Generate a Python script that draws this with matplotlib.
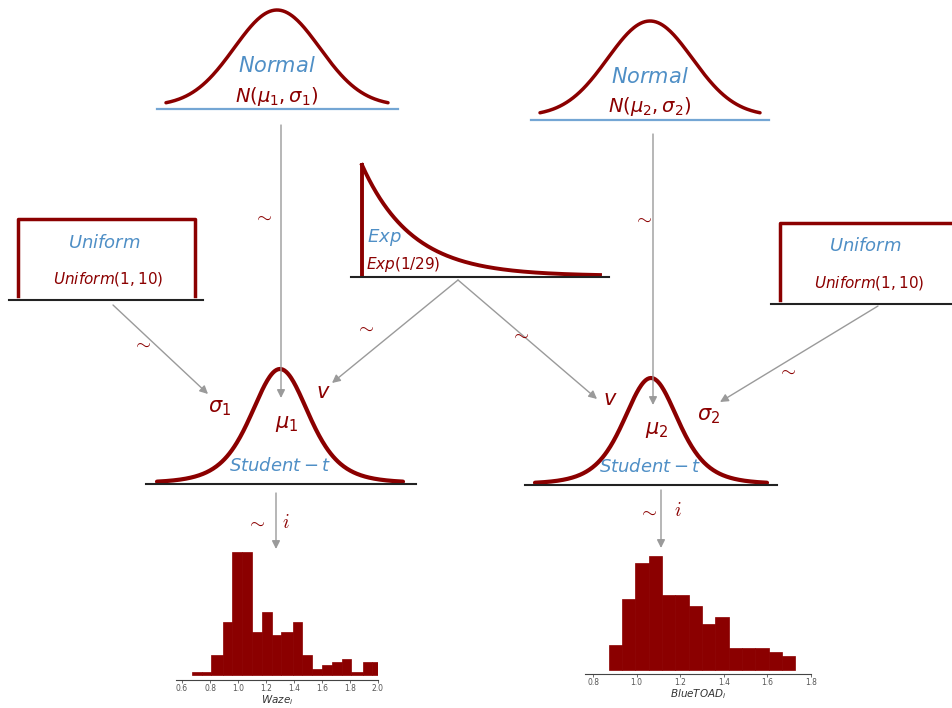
import numpy as np
import matplotlib
matplotlib.use("Agg")
import matplotlib.pyplot as plt

# histogram data (relative bar heights)
waze_edges = [0.67, 0.74, 0.81, 0.89, 0.96, 1.03, 1.10, 1.17, 1.24, 1.31, 1.39,
              1.46, 1.53, 1.60, 1.67, 1.74, 1.81, 1.89, 1.96, 2.03]
waze_heights = [0.08, 0.08, 0.60, 1.61, 3.73, 3.73, 1.30, 1.91, 1.20, 1.31,
                1.61, 0.60, 0.18, 0.29, 0.38, 0.49, 0.08, 0.39, 0.39]
waze_ticks = [0.6, 0.8, 1.0, 1.2, 1.4, 1.6, 1.8, 2.0]

blue_edges = [0.872, 0.933, 0.994, 1.055, 1.116, 1.178, 1.239, 1.300, 1.361,
              1.422, 1.483, 1.544, 1.605, 1.666, 1.727]
blue_heights = [0.75, 2.14, 3.20, 3.42, 2.25, 2.25, 1.92, 1.38, 1.60, 0.65,
                0.65, 0.65, 0.53, 0.42]
blue_ticks = [0.8, 1.0, 1.2, 1.4, 1.6, 1.8]

RED = '#8b0000'
BLUE = '#4f8fc6'
LBLUE = '#74a6d4'
GREY = '#9a9a9a'
W, H = 952, 708

fig = plt.figure(figsize=(W/100, H/100), dpi=100)
ax = fig.add_axes([0, 0, 1, 1])
ax.set_xlim(0, W)
ax.set_ylim(H, 0)
ax.axis('off')


def normal_node(cx, y0, hw, h, line_y, line_x0, line_x1):
    u = np.linspace(-2.6, 2.6, 200)
    ax.plot(cx + u/2.6*hw, y0 - h*np.exp(-u**2/2), color=RED, lw=2.5,
            solid_capstyle='round')
    ax.plot([line_x0, line_x1], [line_y, line_y], color=LBLUE, lw=1.6)


def t_node(cx, y0, hw, h, line_x0, line_x1, nu=5):
    u = np.linspace(-4.1, 4.1, 300)
    ax.plot(cx + u/4.1*hw, y0 - h*(1 + u**2/nu)**(-(nu+1)/2), color=RED,
            lw=3, solid_capstyle='round')
    ax.plot([line_x0, line_x1], [y0 + 1, y0 + 1], color='#222222', lw=1.5)


def arrow(x0, y0, x1, y1):
    ax.annotate('', xy=(x1, y1), xytext=(x0, y0),
                arrowprops=dict(arrowstyle='-|>', color=GREY, lw=1,
                                mutation_scale=12, shrinkA=0, shrinkB=0))


def sim(x, y):
    ax.text(x, y, r'$\sim$', color=RED, fontsize=14, ha='center',
            va='center', math_fontfamily='cm')


# top normals
normal_node(277, 106, 111, 96, 109, 157, 398)
ax.text(277, 66, r'$Normal$', color=BLUE, fontsize=15, ha='center', va='center')
ax.text(277, 97, r'$N(\mu_1,\sigma_1)$', color=RED, fontsize=14, ha='center', va='center')
normal_node(650, 116, 110, 95, 120, 531, 769)
ax.text(650, 77, r'$Normal$', color=BLUE, fontsize=15, ha='center', va='center')
ax.text(650, 107, r'$N(\mu_2,\sigma_2)$', color=RED, fontsize=14, ha='center', va='center')

# uniforms
ax.plot([18, 18, 195, 195], [296, 219, 219, 296], color=RED, lw=2.5)
ax.plot([9, 203], [300, 300], color='#222222', lw=1.5)
ax.text(104, 243, r'$Uniform$', color=BLUE, fontsize=13, ha='center', va='center')
ax.text(108, 279, r'$Uniform(1,10)$', color=RED, fontsize=11, ha='center', va='center')
ax.plot([780, 780, 960], [300, 223, 223], color=RED, lw=2.5)
ax.plot([771, 952], [304, 304], color='#222222', lw=1.5)
ax.text(865, 246, r'$Uniform$', color=BLUE, fontsize=13, ha='center', va='center')
ax.text(869, 283, r'$Uniform(1,10)$', color=RED, fontsize=11, ha='center', va='center')

# exponential
xe = np.linspace(0, 238, 200)
ax.plot([362, 362], [276, 165], color=RED, lw=2.8)
ax.plot(362 + xe, 276 - 111*np.exp(-xe/50), color=RED, lw=2.8)
ax.plot([351, 609], [277, 277], color='#222222', lw=1.5)
ax.text(367, 237, r'$Exp$', color=BLUE, fontsize=13, ha='left', va='center')
ax.text(366, 265, r'$Exp(1/29)$', color=RED, fontsize=11, ha='left', va='center')

# student-t likelihoods
t_node(280, 483, 123, 114, 146, 416)
ax.text(280, 466, r'$Student-t$', color=BLUE, fontsize=13, ha='center', va='center')
ax.text(220, 408, r'$\sigma_1$', color=RED, fontsize=15, ha='center', va='center')
ax.text(287, 424, r'$\mu_1$', color=RED, fontsize=15, ha='center', va='center')
ax.text(323, 392, r'$v$', color=RED, fontsize=15, ha='center', va='center')
t_node(651, 484, 116, 106, 525, 777)
ax.text(650, 467, r'$Student-t$', color=BLUE, fontsize=13, ha='center', va='center')
ax.text(610, 399, r'$v$', color=RED, fontsize=15, ha='center', va='center')
ax.text(657, 430, r'$\mu_2$', color=RED, fontsize=15, ha='center', va='center')
ax.text(709, 416, r'$\sigma_2$', color=RED, fontsize=15, ha='center', va='center')

# arrows and tildes
arrow(281, 125, 281, 398); sim(263, 216)
arrow(113, 305, 208, 394); sim(142, 343)
arrow(458, 280, 332, 383); sim(365, 327)
arrow(458, 280, 597, 399); sim(520, 334)
arrow(653, 134, 653, 405); sim(643, 218)
arrow(878, 306, 720, 402); sim(787, 370)
arrow(276, 493, 276, 549); sim(256, 522)
ax.text(286, 522, r'$i$', color=RED, fontsize=14, ha='center', va='center', math_fontfamily='cm')
arrow(661, 490, 661, 548); sim(648, 511)
ax.text(678, 511, r'$i$', color=RED, fontsize=14, ha='center', va='center', math_fontfamily='cm')


def hist_axes(px_left, px_right, px_top, px_bottom, edges, heights, ticks,
              xmin, xmax, label, base_gap):
    hax = fig.add_axes([px_left/W, 1 - px_bottom/H, (px_right - px_left)/W,
                        (px_bottom - px_top)/H])
    hax.bar(edges[:-1], heights, width=np.diff(edges), align='edge',
            color=RED, edgecolor=RED, linewidth=0.5)
    top = max(heights)
    span = px_bottom - px_top - base_gap
    hax.set_ylim(-base_gap/span*top, top)
    hax.set_xlim(xmin, xmax)
    hax.set_xticks(ticks)
    hax.set_xticklabels(['%.1f' % t for t in ticks])
    hax.tick_params(axis='x', labelsize=5.5, colors='#555555', length=2,
                    width=0.6, pad=1)
    hax.set_yticks([])
    for s in ['top', 'left', 'right']:
        hax.spines[s].set_visible(False)
    hax.spines['bottom'].set_color('#444444')
    hax.spines['bottom'].set_linewidth(0.8)
    hax.set_xlabel(label, fontsize=7.5, color='#333333', labelpad=0)
    hax.patch.set_alpha(0)
    return hax


hist_axes(176, 378, 552, 680, waze_edges, waze_heights, waze_ticks,
          0.557, 2.0, r'$Waze_i$', 5)
hist_axes(585, 811, 556, 674, blue_edges, blue_heights, blue_ticks,
          0.763, 1.8, r'$BlueTOAD_i$', 4)

fig.savefig('out.png', dpi=100)
